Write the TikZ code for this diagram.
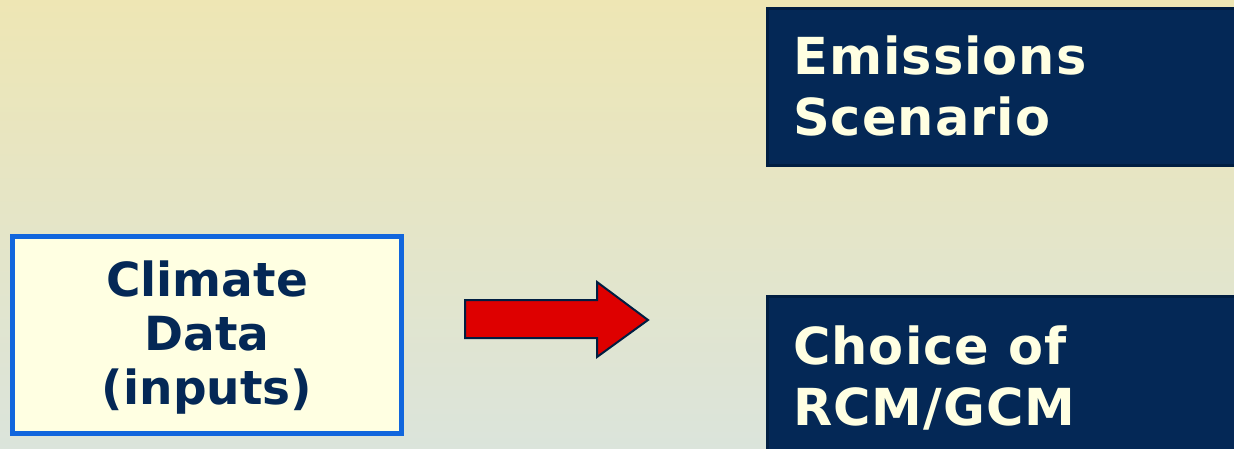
\documentclass[tikz,border=0pt]{standalone}
\usepackage{fontspec}
\newfontfamily\boxfont{DejaVu Sans}[BoldFont={DejaVu Sans Bold}]
\newfontfamily\darkfont{DejaVu Sans Bold}[LetterSpace=2]
\definecolor{bgtop}{RGB}{238,230,180}
\definecolor{bgbot}{RGB}{219,228,219}
\definecolor{navy}{RGB}{4,40,86}
\definecolor{navyedge}{RGB}{0,30,66}
\definecolor{cream}{RGB}{255,255,226}
\definecolor{boxblue}{RGB}{17,102,221}
\definecolor{arrowred}{RGB}{222,0,0}
\tikzset{
  darkbox/.style={fill=navy, draw=navyedge, line width=3pt, anchor=north west, inner sep=0pt},
  darktext/.style={text=cream, font=\darkfont\fontsize{51}{61}\selectfont, align=left, anchor=base west, inner sep=0pt},
  lightbox/.style={fill=cream, draw=boxblue, line width=5pt, inner sep=0pt},
}
\begin{document}
\begin{tikzpicture}[x=1pt,y=-1pt]
\shade[top color=bgtop, bottom color=bgbot] (0,0) rectangle (1234,449);
\useasboundingbox (0,0) rectangle (1234,449);
\node (climate) [lightbox, minimum width=389pt, minimum height=197pt] at (207,335) {};
\node (climatetext) [text=navy, font=\boxfont\bfseries\fontsize{47}{54}\selectfont, align=center, anchor=base, inner sep=0pt] at (207,404) {Climate\\Data\\(inputs)};
\draw[fill=arrowred, draw=navyedge, line width=2pt, line join=miter]
  (465,300) -- (597,300) -- (597,282) -- (648,320) -- (597,357) -- (597,338) -- (465,338) -- cycle;
\node (emis) [darkbox, minimum width=500pt, minimum height=157pt] at (766,7) {};
\node (emistext) [darktext] at (793,136) {Emissions\\Scenario};
\node (choice) [darkbox, minimum width=500pt, minimum height=200pt] at (766,295) {};
\node (choicetext) [darktext] at (793,425) {Choice of\\RCM/GCM};
\end{tikzpicture}
\end{document}
